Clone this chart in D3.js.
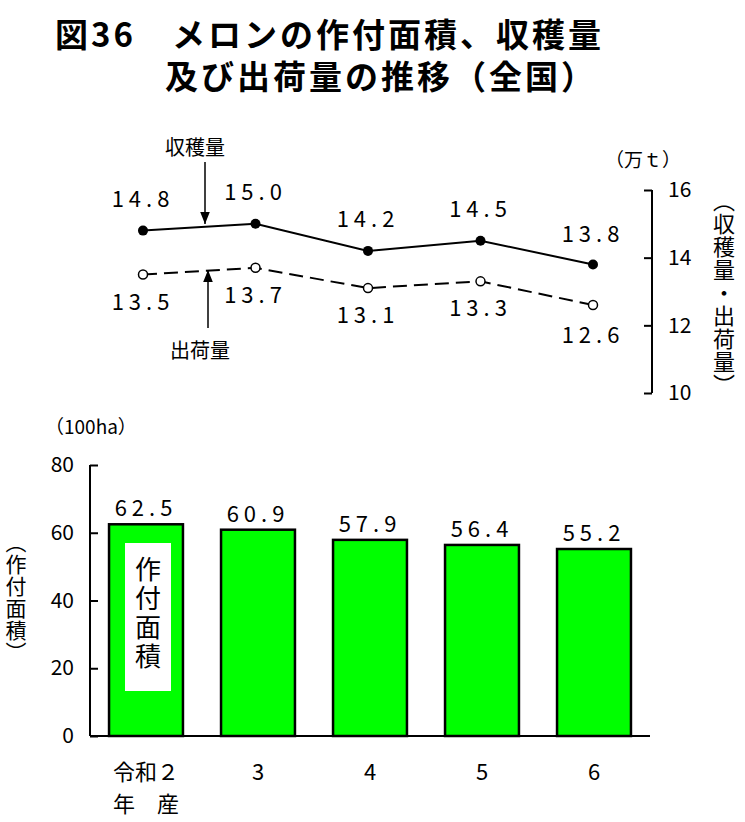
<!DOCTYPE html><html><head><meta charset="utf-8">
<script src="https://cdn.jsdelivr.net/npm/d3@7"></script>
<style>body{margin:0;background:#fff}text{font-family:"Noto Sans CJK JP",sans-serif}</style></head><body>
<svg id="c" width="745" height="822"></svg>
<script>
const years=["2","3","4","5","6"];
const harvest=[14.8,15.0,14.2,14.5,13.8];
const shipped=[13.5,13.7,13.1,13.3,12.6];
const area=[62.5,60.9,57.9,56.4,55.2];
const lineTicks=[10,12,14,16];
const barTicks=[0,20,40,60,80];
const svg=d3.select("#c");
const f=d3.format(".1f");
svg.append("text").attr("x",55).attr("y",47).attr("font-size",33).attr("font-weight","bold").attr("letter-spacing",3).text("図36　メロンの作付面積、収穫量");
svg.append("text").attr("x",165).attr("y",89).attr("font-size",33).attr("font-weight","bold").attr("letter-spacing",3).text("及び出荷量の推移（全国）");
const x=d3.scalePoint().domain(years).range([143,593]);
const y1=d3.scaleLinear().domain([10,16]).range([393,190]);
const ax=svg.append("g").attr("transform","translate(652,0)").call(d3.axisRight(y1).tickValues(lineTicks).tickFormat(d3.format("d")).tickSize(-8).tickPadding(16));
ax.select(".domain").attr("stroke-width",2).attr("d","M0,190V393");
ax.selectAll("text").attr("font-size",21).attr("font-family","Liberation Serif");
ax.selectAll("line").attr("stroke-width",2);
svg.append("text").attr("x",605).attr("y",167).attr("font-size",19).text("（万ｔ）");
svg.append("text").attr("transform","translate(724,190)").attr("writing-mode","vertical-rl").attr("font-size",22).attr("letter-spacing",1).text("（収穫量・出荷量）");
const ln=d3.line().x((d,i)=>x(years[i])).y(d=>y1(d));
svg.append("path").attr("d",ln(harvest)).attr("fill","none").attr("stroke","#000").attr("stroke-width",2);
svg.append("path").attr("d",ln(shipped)).attr("fill","none").attr("stroke","#000").attr("stroke-width",2).attr("stroke-dasharray","14,7");
harvest.forEach((v,i)=>{svg.append("circle").attr("cx",x(years[i])).attr("cy",y1(v)).attr("r",5);
 svg.append("text").attr("x",x(years[i])).attr("y",y1(v)-(i==4?22:24)).attr("text-anchor","middle").attr("font-size",22).attr("font-family","Liberation Serif").attr("letter-spacing",5).text(f(v));});
shipped.forEach((v,i)=>{svg.append("circle").attr("cx",x(years[i])).attr("cy",y1(v)).attr("r",4.5).attr("fill","#fff").attr("stroke","#000").attr("stroke-width",1.5);
 svg.append("text").attr("x",x(years[i])).attr("y",y1(v)+(i==4?38:35)).attr("text-anchor","middle").attr("font-size",22).attr("font-family","Liberation Serif").attr("letter-spacing",5).text(f(v));});
const defs=svg.append("defs");defs.append("marker").attr("id","ar").attr("viewBox","0 0 10 10").attr("refX",10).attr("refY",5).attr("markerWidth",8).attr("markerHeight",8).attr("orient","auto").append("path").attr("d","M0,1L10,5L0,9z");
svg.append("text").attr("x",165).attr("y",155).attr("font-size",20).text("収穫量");
svg.append("line").attr("x1",205).attr("y1",162).attr("x2",205).attr("y2",224).attr("stroke","#000").attr("stroke-width",1.5).attr("marker-end","url(#ar)");
svg.append("text").attr("x",170).attr("y",358).attr("font-size",20).text("出荷量");
svg.append("line").attr("x1",208).attr("y1",328).attr("x2",208).attr("y2",270).attr("stroke","#000").attr("stroke-width",1.5).attr("marker-end","url(#ar)");
const xb=d3.scaleBand().domain(years).range([90,650]).paddingInner(0.34).paddingOuter(0.17);
const yb=d3.scaleLinear().domain([0,80]).range([736,465]);
svg.selectAll(".b").data(area).enter().append("rect").attr("x",(d,i)=>xb(years[i])).attr("width",xb.bandwidth()).attr("y",d=>yb(d)).attr("height",d=>736-yb(d)).attr("fill","#00ff00").attr("stroke","#000").attr("stroke-width",2.5);
area.forEach((v,i)=>svg.append("text").attr("x",xb(years[i])+xb.bandwidth()/2).attr("y",yb(v)-8).attr("text-anchor","middle").attr("font-size",22).attr("font-family","Liberation Serif").attr("letter-spacing",5).text(f(v)));
const ay=svg.append("g").attr("transform","translate(90,0)").call(d3.axisLeft(yb).tickValues(barTicks).tickSize(-8).tickPadding(16));
ay.select(".domain").attr("stroke-width",2).attr("d","M0,465V736");
ay.selectAll("text").attr("font-size",21).attr("font-family","Liberation Serif");ay.selectAll("line").attr("stroke-width",2);
svg.append("line").attr("x1",90).attr("x2",650).attr("y1",736).attr("y2",736).attr("stroke","#000").attr("stroke-width",2);
svg.append("text").attr("x",45).attr("y",434).attr("font-size",19).text("（100ha）");
svg.append("text").attr("transform","translate(16,532)").attr("writing-mode","vertical-rl").attr("font-size",21).attr("letter-spacing",1).text("（作付面積）");
svg.append("rect").attr("x",125).attr("y",543).attr("width",46).attr("height",148).attr("fill","#fff");
svg.append("text").attr("transform","translate(148,556)").attr("writing-mode","vertical-rl").attr("font-size",26).attr("letter-spacing",3).text("作付面積");
years.forEach((yv,i)=>svg.append("text").attr("x",xb(yv)+xb.bandwidth()/2).attr("y",780).attr("text-anchor","middle").attr("font-size",22).text(i==0?"令和２":yv));
svg.append("text").attr("x",146).attr("y",812).attr("text-anchor","middle").attr("font-size",22).text("年　産");
</script></body></html>
